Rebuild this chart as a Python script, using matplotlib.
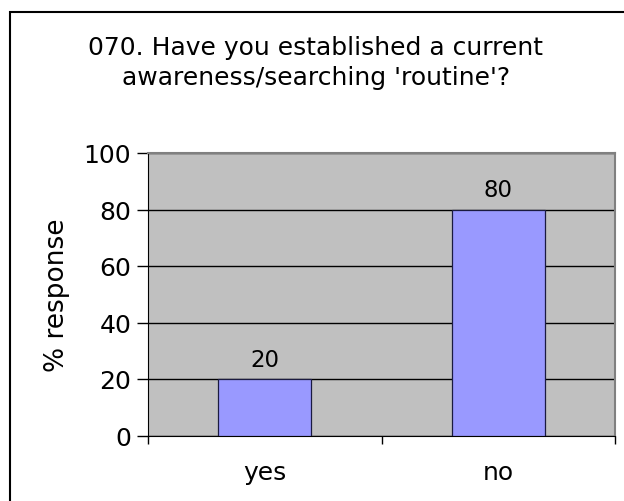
import matplotlib
matplotlib.use("Agg")
import matplotlib.pyplot as plt
from matplotlib.patches import Rectangle
from matplotlib.ticker import FixedLocator

categories = ["yes", "no"]
values = [20, 80]
yticks = [0, 20, 40, 60, 80, 100]
title = "070. Have you established a current\nawareness/searching 'routine'?"
ylabel = "% response"

plt.rcParams['font.family'] = ['DejaVu Sans']

fig = plt.figure(figsize=(6.24, 5.02), dpi=100)
fig.patch.set_facecolor("white")

# figure frame
fig.patches.append(Rectangle((10/624, -0.1), 1.2, (502-13)/502 + 0.1,
                             transform=fig.transFigure, fill=False,
                             edgecolor="black", lw=1.5, zorder=0))

ax = fig.add_axes([148/624, 1-436.5/502, (615-148)/624, (436.5-154)/502])
ax.set_facecolor("#C0C0C0")
x = list(range(len(categories)))
bars = ax.bar(x, values, width=0.4, color="#9999FF", edgecolor="#1a1a40",
              linewidth=0.9, zorder=3)
ax.set_xlim(-0.5, len(categories) - 0.5)
ax.set_ylim(0, 100)
ax.set_yticks(yticks)
ax.yaxis.grid(True, color="black", lw=1.0, zorder=1)
ax.set_axisbelow(True)
ax.tick_params(axis="y", length=8, width=1, labelsize=18, pad=4)
ax.set_xticks(x)
ax.set_xticklabels(categories)
ax.tick_params(axis="x", which="major", length=0, labelsize=18, pad=18)
ax.xaxis.set_minor_locator(FixedLocator([i - 0.5 for i in range(len(categories) + 1)]))
ax.tick_params(axis="x", which="minor", length=6, width=1, color="black")

for s in ["top", "right"]:
    ax.spines[s].set_color("#808080")
    ax.spines[s].set_linewidth(1.5)
ax.spines["left"].set_color("black")
ax.spines["bottom"].set_color("black")

for xi, v in zip(x, values):
    ax.text(xi, v + 3, f"{v}", ha="center", va="bottom", fontsize=16.5)

ax.set_ylabel(ylabel, fontsize=19, labelpad=10)
fig.text(0.5 + 4/624, 1 - 63/502, title, ha="center", va="center",
         fontsize=18, linespacing=1.33)

fig.savefig("out.png", dpi=100)
